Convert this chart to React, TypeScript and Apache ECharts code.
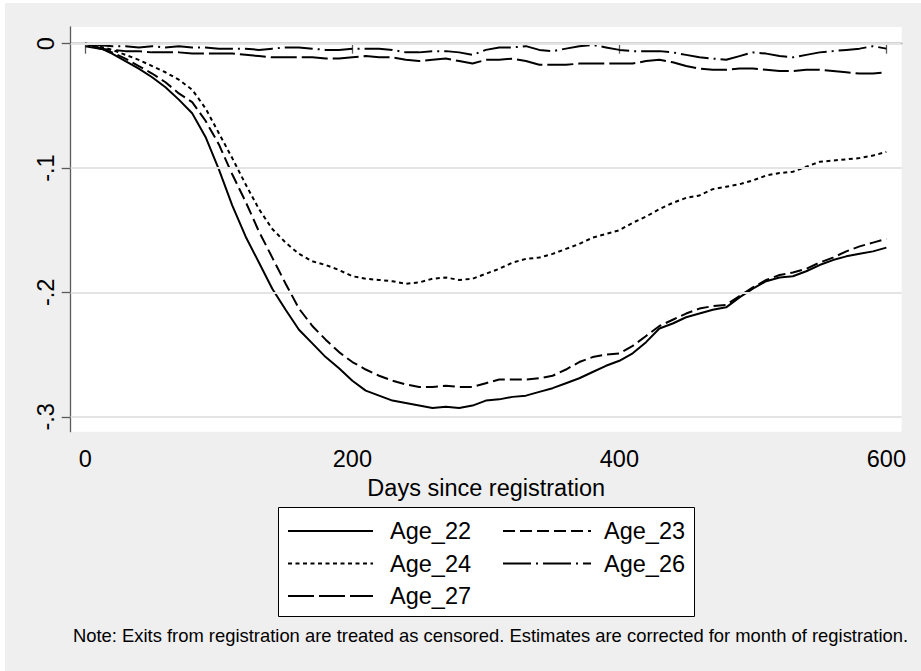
import React, { useEffect, useRef } from "react";
import * as echarts from "echarts";

const days = [0,10,20,30,40,50,60,70,80,90,100,110,120,130,140,150,160,170,180,190,200,210,220,230,240,250,260,270,280,290,300,310,320,330,340,350,360,370,380,390,400,410,420,430,440,450,460,470,480,490,500,510,520,530,540,550,560,570,580,590,600];

const age22 = [0,-0.003,-0.008,-0.014,-0.020,-0.027,-0.035,-0.045,-0.056,-0.075,-0.101,-0.130,-0.155,-0.176,-0.197,-0.214,-0.230,-0.241,-0.252,-0.261,-0.271,-0.279,-0.283,-0.287,-0.289,-0.291,-0.293,-0.292,-0.293,-0.291,-0.287,-0.286,-0.284,-0.283,-0.280,-0.277,-0.273,-0.269,-0.264,-0.259,-0.255,-0.249,-0.240,-0.229,-0.225,-0.220,-0.217,-0.214,-0.212,-0.204,-0.197,-0.191,-0.188,-0.187,-0.183,-0.178,-0.174,-0.171,-0.169,-0.167,-0.164];

const age23 = [0,-0.003,-0.007,-0.012,-0.018,-0.024,-0.031,-0.040,-0.047,-0.062,-0.081,-0.105,-0.127,-0.151,-0.172,-0.193,-0.213,-0.227,-0.238,-0.248,-0.256,-0.262,-0.267,-0.271,-0.274,-0.276,-0.276,-0.275,-0.276,-0.276,-0.273,-0.270,-0.270,-0.270,-0.269,-0.267,-0.262,-0.256,-0.252,-0.250,-0.249,-0.243,-0.235,-0.227,-0.222,-0.217,-0.213,-0.211,-0.210,-0.203,-0.196,-0.190,-0.186,-0.184,-0.181,-0.176,-0.172,-0.167,-0.163,-0.160,-0.157];

const age24 = [0,-0.002,-0.005,-0.009,-0.013,-0.018,-0.023,-0.029,-0.037,-0.052,-0.072,-0.092,-0.113,-0.133,-0.149,-0.160,-0.169,-0.175,-0.178,-0.182,-0.187,-0.189,-0.190,-0.191,-0.193,-0.192,-0.189,-0.188,-0.190,-0.189,-0.185,-0.181,-0.176,-0.173,-0.172,-0.169,-0.165,-0.161,-0.156,-0.153,-0.150,-0.144,-0.139,-0.133,-0.128,-0.124,-0.122,-0.117,-0.115,-0.113,-0.110,-0.106,-0.104,-0.103,-0.099,-0.095,-0.094,-0.093,-0.092,-0.090,-0.087];

const age26 = [0,-0.001,-0.002,-0.002,-0.003,-0.002,-0.003,-0.002,-0.003,-0.003,-0.004,-0.004,-0.004,-0.005,-0.004,-0.003,-0.003,-0.004,-0.005,-0.005,-0.004,-0.004,-0.004,-0.005,-0.007,-0.007,-0.006,-0.006,-0.007,-0.009,-0.005,-0.003,-0.003,-0.002,-0.005,-0.006,-0.004,-0.002,-0.001,-0.003,-0.005,-0.006,-0.006,-0.006,-0.007,-0.009,-0.011,-0.012,-0.013,-0.010,-0.007,-0.008,-0.010,-0.011,-0.009,-0.007,-0.006,-0.005,-0.004,-0.002,-0.004];

const age27 = [-0.002,-0.004,-0.005,-0.006,-0.006,-0.007,-0.007,-0.007,-0.008,-0.008,-0.008,-0.008,-0.009,-0.010,-0.011,-0.011,-0.011,-0.011,-0.012,-0.012,-0.011,-0.010,-0.011,-0.011,-0.013,-0.014,-0.013,-0.012,-0.014,-0.016,-0.013,-0.013,-0.012,-0.014,-0.017,-0.017,-0.017,-0.016,-0.016,-0.016,-0.016,-0.016,-0.014,-0.013,-0.015,-0.018,-0.020,-0.021,-0.021,-0.020,-0.020,-0.021,-0.022,-0.022,-0.021,-0.021,-0.022,-0.023,-0.024,-0.024,-0.023];

const xTicks = [0, 200, 400, 600];
const yTicks = [-0.3, -0.2, -0.1, 0];
const seriesNames = ["Age_22", "Age_23", "Age_24", "Age_26", "Age_27"];
const xTitle = "Days since registration";
const note = "Note: Exits from registration are treated as censored. Estimates are corrected for month of registration.";

const FONT = '"Liberation Sans", Arial, Helvetica, sans-serif';
const FS = 23.5;
const AXIS_COLOR = "#5a5a5a";

export default function App() {
  const ref = useRef<HTMLDivElement>(null);
  useEffect(() => {
    document.body.style.margin = "0";
    const chart = echarts.init(ref.current!, null, { renderer: "svg" });
    const values = [age22, age23, age24, age26, age27];
    const dashes: any[] = ["solid", [12, 5], [4, 3.5], [28, 5, 2, 5], [26, 5]];
    const series: any[] = values.map((vals, i) => ({
      name: seriesNames[i],
      type: "line",
      data: days.map((d, j) => [d, vals[j]]),
      symbol: "none",
      showSymbol: false,
      z: 3,
      itemStyle: { color: "#000" },
      lineStyle: { color: "#000", width: 2, type: dashes[i] },
    }));
    series.push({
      name: "grid",
      type: "line",
      data: [],
      z: 1,
      markLine: {
        silent: true,
        symbol: ["none", "none"],
        label: { show: false },
        lineStyle: { color: "#e4e4e4", width: 2, type: "solid" },
        data: yTicks.map((v) => ({ yAxis: v })),
      },
    });
    const legendCommon = {
      orient: "vertical",
      top: 519,
      padding: 0,
      itemHeight: 14,
      itemGap: 8.5,
      selectedMode: false,
      itemStyle: { opacity: 0, borderWidth: 0 },
    };
    chart.setOption({
      animation: false,
      backgroundColor: "#efefef",
      grid: {
        left: 70.7,
        top: 27,
        right: 19.3,
        bottom: 239.3,
        show: true,
        backgroundColor: "#ffffff",
        borderWidth: 0,
      },
      xAxis: {
        type: "value",
        min: -11,
        max: 611.5,
        name: xTitle,
        nameLocation: "middle",
        nameGap: 37.5,
        nameTextStyle: { fontSize: FS, fontFamily: FONT, color: "#000" },
        axisLine: { show: true, lineStyle: { color: AXIS_COLOR, width: 1.3 } },
        axisTick: { show: true, length: 10, customValues: xTicks, lineStyle: { color: AXIS_COLOR, width: 1.3 } },
        axisLabel: { customValues: xTicks, fontSize: FS, fontFamily: FONT, color: "#000", margin: 15.5 },
        splitLine: { show: false },
      },
      yAxis: {
        type: "value",
        min: -0.312,
        max: 0.0134,
        axisLine: { show: true, onZero: false, lineStyle: { color: AXIS_COLOR, width: 1.3 } },
        axisTick: { show: true, length: 9, customValues: yTicks, lineStyle: { color: AXIS_COLOR, width: 1.3 } },
        axisLabel: {
          customValues: yTicks,
          rotate: 90,
          fontSize: FS,
          fontFamily: FONT,
          color: "#000",
          margin: 13,
          formatter: (v: number) => (Math.abs(v) < 1e-9 ? "0" : String(Math.round(v * 10) / 10).replace("0.", ".")),
        },
        splitLine: { show: false },
      },
      legend: [
        {
          ...legendCommon,
          left: 287,
          data: ["Age_22", "Age_24", "Age_27"],
          itemWidth: 85,
          textStyle: { fontSize: FS, fontFamily: FONT, color: "#000", lineHeight: 24, padding: [0, 0, 0, 12] },
        },
        {
          ...legendCommon,
          left: 502,
          data: ["Age_23", "Age_26"],
          itemWidth: 88,
          textStyle: { fontSize: FS, fontFamily: FONT, color: "#000", lineHeight: 24, padding: [0, 0, 0, 8] },
        },
      ],
      graphic: [
        { type: "rect", left: 0, top: 0, z: 0, shape: { width: 921, height: 3 }, style: { fill: "#ffffff" } },
        { type: "rect", left: 0, top: 0, z: 0, shape: { width: 5, height: 671 }, style: { fill: "#ffffff" } },
        {
          type: "rect",
          z: 1,
          shape: { x: 278.5, y: 507.5, width: 416, height: 109 },
          style: { fill: "#ffffff", stroke: "#000000", lineWidth: 1 },
        },
        {
          type: "text",
          z: 1,
          x: 490.5,
          y: 635,
          style: {
            text: note,
            font: `18.4px ${FONT}`,
            fill: "#000",
            textAlign: "center",
            textVerticalAlign: "middle",
          },
        },
      ],
      series,
    });
    return () => chart.dispose();
  }, []);
  return <div ref={ref} style={{ width: 921, height: 671 }} />;
}
